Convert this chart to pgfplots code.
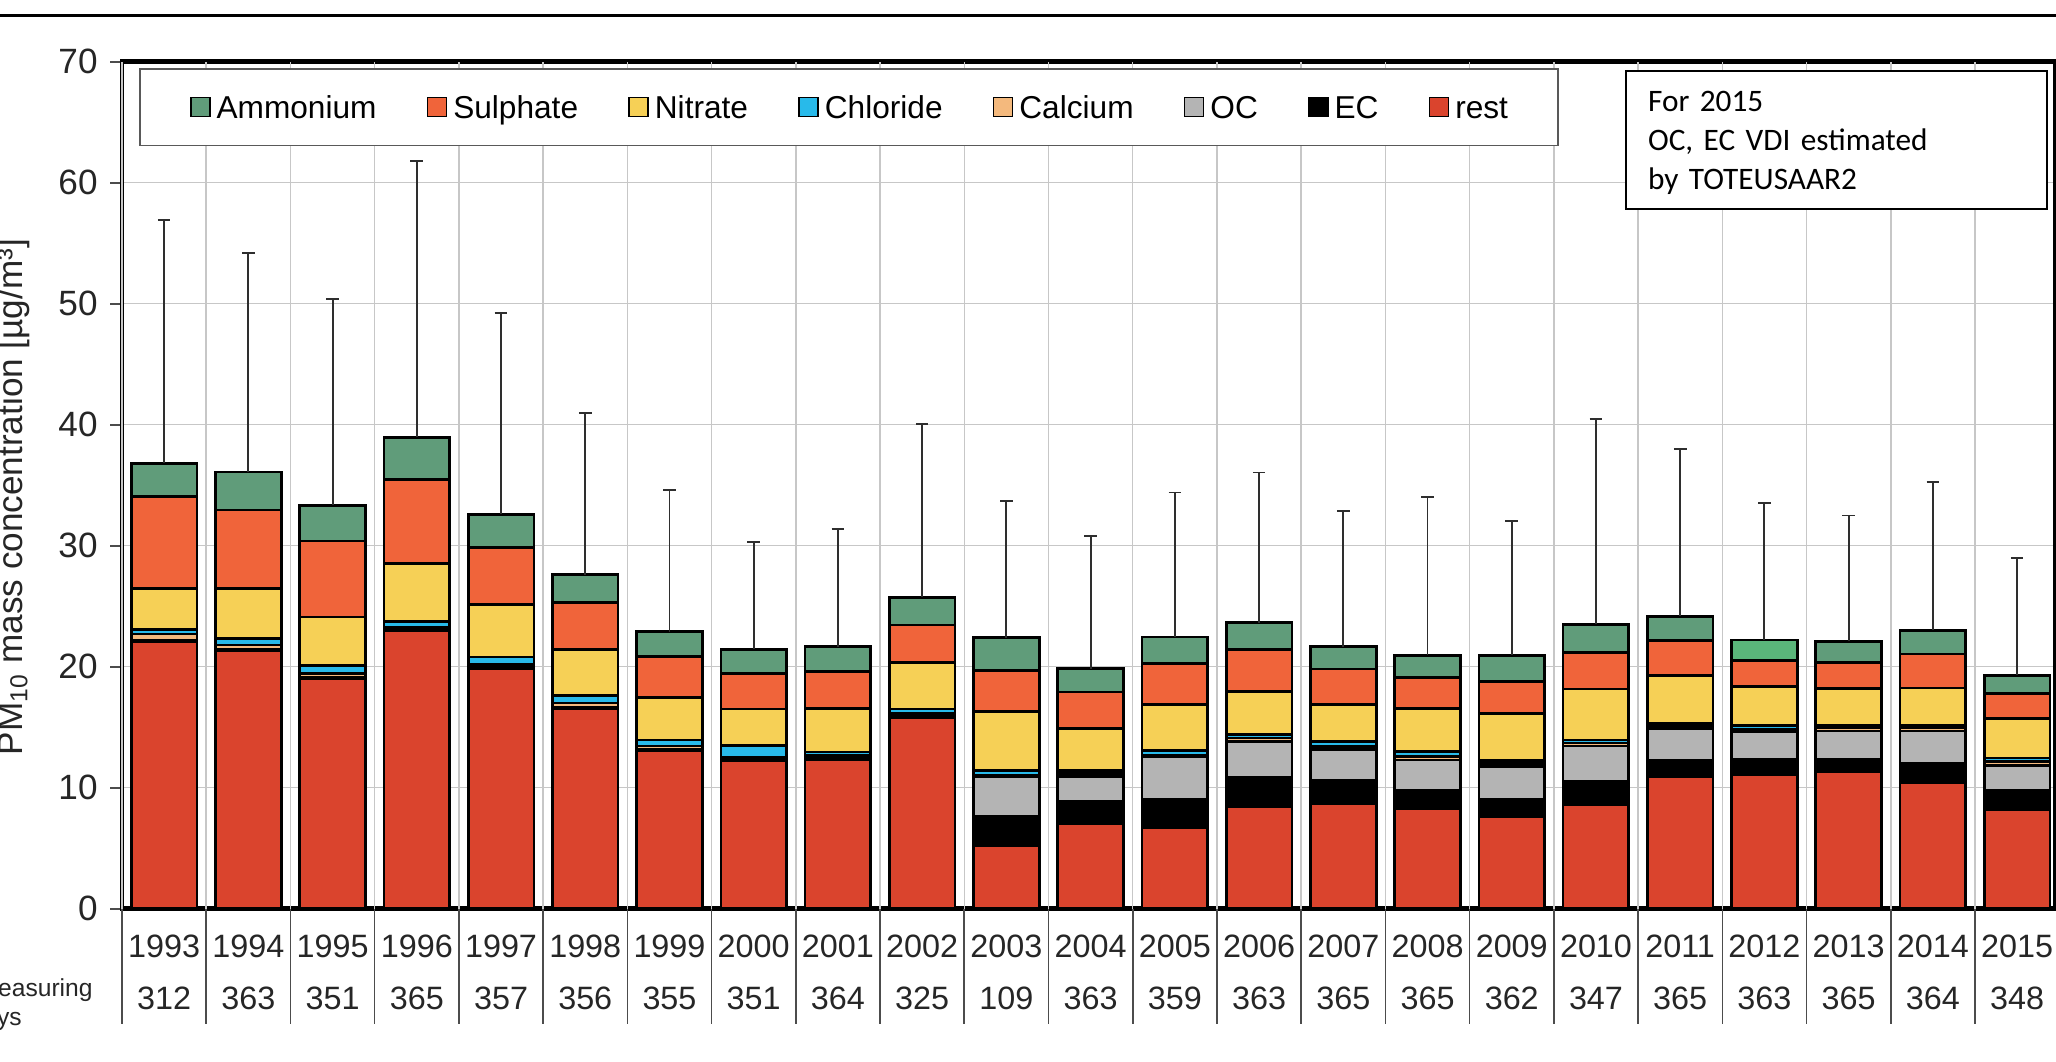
\documentclass[border=0pt]{standalone}
\usepackage{fontspec}
\setmainfont{Liberation Sans}
\newfontfamily\calibri{Carlito}
\usepackage{pgfplots}
\usepackage{pgfplotstable}
\pgfplotsset{compat=1.18}

\definecolor{restc}{RGB}{218,68,45}
\definecolor{ecc}{RGB}{0,0,0}
\definecolor{occ}{RGB}{180,180,180}
\definecolor{cac}{RGB}{244,185,125}
\definecolor{clc}{RGB}{40,186,234}
\definecolor{nitc}{RGB}{246,208,86}
\definecolor{sulc}{RGB}{240,100,58}
\definecolor{ammc}{RGB}{96,156,122}
\definecolor{ammb}{RGB}{90,181,122}

% PM10 composition per year (ug/m3), stacked from the bottom: rest, EC, OC,
% calcium, chloride, nitrate, sulphate, ammonium; top = upper whisker
\pgfplotstableread{
x year days rest  EC   OC   Ca   Cl   nit  sul  amm  ammB top
0  1993 312 22.05 0.10 0    0.55 0.40 3.35 7.60 2.75 0    56.9
1  1994 363 21.35 0.10 0    0.35 0.55 4.10 6.50 3.15 0    54.2
2  1995 351 19.00 0.10 0    0.35 0.65 4.00 6.30 2.95 0    50.4
3  1996 365 22.95 0.30 0    0    0.50 4.80 6.95 3.45 0    61.8
4  1997 357 19.85 0.35 0    0    0.60 4.35 4.70 2.75 0    49.2
5  1998 356 16.55 0.10 0    0.35 0.65 3.75 3.90 2.30 0    41.0
6  1999 355 13.05 0.10 0    0.30 0.50 3.50 3.40 2.05 0    34.6
7  2000 351 12.20 0.35 0    0    0.95 3.00 2.95 2.00 0    30.3
8  2001 364 12.30 0.35 0    0    0.30 3.60 3.05 2.05 0    31.4
9  2002 325 15.80 0.35 0    0    0.35 3.85 3.10 2.30 0    40.05
10 2003 109  5.20 2.40 3.35 0.05 0.45 4.85 3.40 2.70 0    33.7
11 2004 363  7.00 1.85 2.10 0.25 0.25 3.45 3.00 1.95 0    30.8
12 2005 359  6.70 2.35 3.50 0.15 0.35 3.80 3.40 2.20 0    34.4
13 2006 363  8.40 2.45 2.95 0.30 0.30 3.55 3.45 2.25 0    36.05
14 2007 365  8.70 1.95 2.50 0.25 0.40 3.05 2.95 1.85 0    32.9
15 2008 365  8.30 1.45 2.55 0.30 0.40 3.55 2.55 1.85 0    34.0
16 2009 362  7.60 1.45 2.70 0.25 0.25 3.90 2.60 2.20 0    32.05
17 2010 347  8.60 1.95 2.90 0.25 0.25 4.20 3.00 2.35 0    40.5
18 2011 365 10.90 1.40 2.60 0.25 0.20 3.95 2.85 2.00 0    38.0
19 2012 363 11.05 1.30 2.30 0.15 0.35 3.20 2.15 0    1.70 33.55
20 2013 365 11.30 1.05 2.35 0.25 0.20 3.05 2.15 1.75 0    32.5
21 2014 364 10.45 1.55 2.70 0.25 0.20 3.10 2.80 1.95 0    35.3
22 2015 348  8.15 1.60 2.10 0.30 0.30 3.30 2.05 1.50 0    29.0
}\pmdata

\pgfplotsset{
  sqleg/.style={legend image code/.code={%
    \draw[##1,line width=0.5pt] (0cm,-0.095cm) rectangle (0.19cm,0.095cm);}},
  barstyle/.style={draw=black, line width=0.77pt, sqleg},
}

\begin{document}
\begin{tikzpicture}
\useasboundingbox (0,0) rectangle (20.56,10.61);
\clip (0,0) rectangle (20.56,10.61);
\draw[line width=0.03cm] (0,10.453) -- (20.56,10.453);

\begin{axis}[
  at={(1.22cm,1.523cm)}, anchor=south west,
  scale only axis, width=19.33cm, height=8.47cm,
  xmin=-0.5, xmax=22.45, ymin=0, ymax=70,
  ybar stacked, bar width=0.657cm,
  axis line style={line width=1.4pt},
  tick align=outside, xtick pos=bottom, ytick pos=left,
  major tick length=0.12cm,
  xtick={0,...,22},
  xticklabels={{1993\\312},{1994\\363},{1995\\351},{1996\\365},{1997\\357},{1998\\356},{1999\\355},{2000\\351},{2001\\364},{2002\\325},{2003\\109},{2004\\363},{2005\\359},{2006\\363},{2007\\365},{2008\\365},{2009\\362},{2010\\347},{2011\\365},{2012\\363},{2013\\365},{2014\\364},{2015\\348}},
  xticklabel style={font=\fontsize{9.2}{14.8}\selectfont, align=center, anchor=north, inner sep=0pt, yshift=-0.13cm, text=black!85},
  xtick style={draw=none},
  extra x ticks={-0.5,0.5,...,21.5},
  extra x tick labels={},
  extra x tick style={grid=major, major tick length=1.15cm, xtick style={draw=black!70, line width=0.45pt}},
  ytick={0,10,...,70},
  ytick style={draw=black!70, line width=0.45pt},
  yticklabel style={font=\fontsize{10}{12}\selectfont, text=black!85},
  /pgf/number format/assume math mode=true,
  ymajorgrids,
  major grid style={draw=black!22, line width=0.43pt},
  ylabel={PM\textsubscript{10} mass concentration [µg/m³]},
  ylabel style={at={(axis description cs:-0.0517,0.486)}, anchor=base, font=\fontsize{10}{12}\selectfont, text=black!85},
  reverse legend,
  legend cell align=left,
  legend style={at={(axis description cs:0.0088,0.9926)}, anchor=north west,
    draw=black!65, line width=0.45pt, fill=white,
    font=\fontsize{9}{11}\selectfont, legend columns=8,
    inner xsep=0.5cm, inner ysep=0.27cm,
    nodes={inner xsep=0pt, inner ysep=0pt, text height=6.44pt, text depth=0pt},
    /tikz/every odd column/.append style={column sep=0.06cm},
    /tikz/every even column/.append style={column sep=0.5cm}},
]
\addplot[barstyle, fill=restc] table[x=x, y=rest] {\pmdata};
\addlegendentry{rest}
\addplot[barstyle, fill=ecc] table[x=x, y=EC] {\pmdata};
\addlegendentry{EC}
\addplot[barstyle, fill=occ] table[x=x, y=OC] {\pmdata};
\addlegendentry{OC}
\addplot[barstyle, fill=cac] table[x=x, y=Ca] {\pmdata};
\addlegendentry{Calcium}
\addplot[barstyle, fill=clc] table[x=x, y=Cl] {\pmdata};
\addlegendentry{Chloride}
\addplot[barstyle, fill=nitc] table[x=x, y=nit] {\pmdata};
\addlegendentry{Nitrate}
\addplot[barstyle, fill=sulc] table[x=x, y=sul] {\pmdata};
\addlegendentry{Sulphate}
\addplot[barstyle, fill=ammc] table[x=x, y=amm] {\pmdata};
\addlegendentry{Ammonium}
\addplot[barstyle, fill=ammb, forget plot] table[x=x, y=ammB] {\pmdata};

\node[draw=black, line width=0.57pt, fill=white, anchor=north west,
  inner xsep=0.22cm, inner ysep=0pt, text width=3.77cm, align=left,
  font=\calibri\fontsize{8.9}{11.1}\selectfont]
  at (axis description cs:0.7776,0.9902)
  {\rule{0pt}{11.4pt}For 2015\\OC, EC VDI estimated\\by TOTEUSAAR2\rule[-5.7pt]{0pt}{5.7pt}};
\end{axis}

% upper whiskers on top of the stacked totals
\begin{axis}[
  at={(1.22cm,1.523cm)}, anchor=south west,
  scale only axis, width=19.33cm, height=8.47cm,
  xmin=-0.5, xmax=22.45, ymin=0, ymax=70,
  hide axis,
]
\addplot[draw=none, mark=none,
  error bars/.cd, y dir=plus, y explicit,
  error bar style={draw=black!82, line width=0.55pt},
  error mark options={rotate=90, draw=black!82, line width=0.55pt, mark size=1.8pt}]
  table[x=x,
    y expr=\thisrow{rest}+\thisrow{EC}+\thisrow{OC}+\thisrow{Ca}+\thisrow{Cl}+\thisrow{nit}+\thisrow{sul}+\thisrow{amm}+\thisrow{ammB},
    y error plus expr=\thisrow{top}-(\thisrow{rest}+\thisrow{EC}+\thisrow{OC}+\thisrow{Ca}+\thisrow{Cl}+\thisrow{nit}+\thisrow{sul}+\thisrow{amm}+\thisrow{ammB})]
  {\pmdata};
\end{axis}

\node[anchor=base west, inner sep=0pt, font=\fontsize{7}{8.3}\selectfont, text=black!85] at (-0.23,0.65) {Measuring};
\node[anchor=base west, inner sep=0pt, font=\fontsize{7}{8.3}\selectfont, text=black!85] at (-0.31,0.36) {days};
\end{tikzpicture}
\end{document}
